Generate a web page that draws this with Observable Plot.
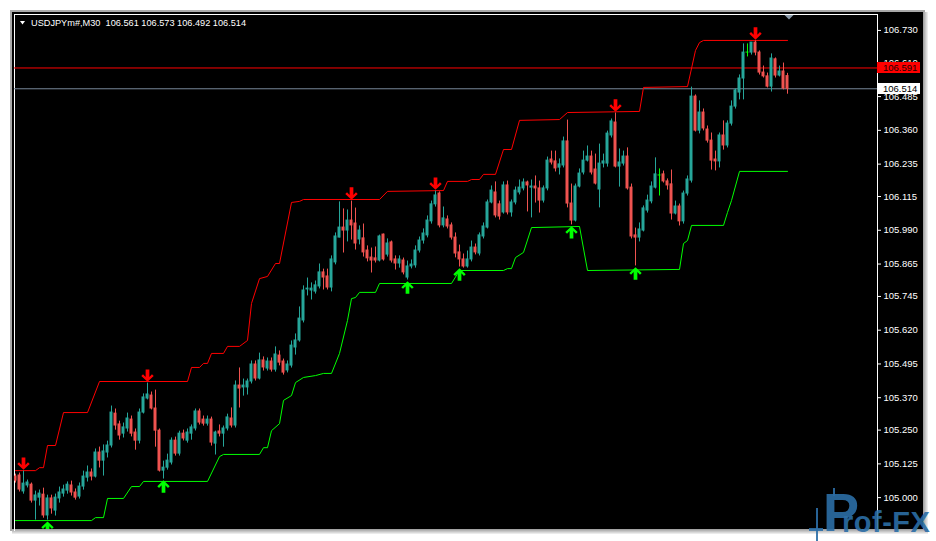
<!DOCTYPE html>
<html>
<head>
<meta charset="utf-8">
<script src="https://cdn.jsdelivr.net/npm/d3@7"></script>
<script src="https://cdn.jsdelivr.net/npm/@observablehq/plot@0.6"></script>
<style>
  html, body { margin: 0; padding: 0; background: #ffffff; }
  #wrap { position: relative; width: 936px; height: 541px; overflow: hidden; font-family: "Liberation Sans", Arial, sans-serif; }
  .abs { position: absolute; }
</style>
</head>
<body>
<div id="wrap">
  <div class="abs" style="left:10px;top:10px;width:915px;height:2px;background:#a8a8a8"></div>
  <div class="abs" style="left:10px;top:10px;width:2px;height:521px;background:#a8a8a8"></div>
  <div class="abs" style="left:923px;top:12px;width:5px;height:520px;background:linear-gradient(to right,#9a9a9a,#f4f4f4)"></div>
  <div class="abs" style="left:12px;top:529px;width:916px;height:5px;background:linear-gradient(to bottom,#9a9a9a,#f4f4f4)"></div>
  <div class="abs" style="left:12px;top:12px;width:911px;height:517px;background:#000"></div>
  <div class="abs" style="left:14px;top:14px;width:862px;height:516px;border-left:1px solid #fff;border-top:1px solid #fff;border-right:1px solid #fff;"></div>
  <div id="chart" class="abs" style="left:0;top:0"></div>
  <svg id="logo" class="abs" style="left:0;top:0;pointer-events:none" width="936" height="541"></svg>
</div>
<script>
// ---- Data (USDJPYm#, M30) ----
const symbolName = "USDJPYm#,M30";
const lastQuote = ["106.561", "106.573", "106.492", "106.514"];
const bidPrice = 106.514;
const askPrice = 106.591;

const candleOpen = [
105.078,105.082,105.023,105.045,105.048,104.989,105.000,105.011,104.934,104.997,
104.952,104.997,105.015,105.026,105.045,105.019,105.004,105.041,105.074,105.093,
105.078,105.167,105.137,105.167,105.193,105.311,105.271,105.237,105.256,105.289,
105.241,105.211,105.315,105.367,105.378,105.330,105.248,105.100,105.111,105.130,
105.211,105.163,105.237,105.211,105.237,105.256,105.319,105.289,105.274,105.289,
105.200,105.245,105.237,105.256,105.293,105.267,105.415,105.408,105.408,105.430,
105.493,105.441,105.508,105.478,105.504,105.474,105.526,105.504,105.471,105.489,
105.556,105.582,105.656,105.771,105.767,105.763,105.782,105.834,105.819,105.778,
105.871,105.963,106.000,105.989,106.026,106.015,105.956,105.960,105.915,105.889,
105.886,105.878,105.974,105.900,105.945,105.882,105.867,105.878,105.815,105.856,
105.860,105.915,105.952,105.971,106.023,106.086,106.126,106.008,106.030,106.008,
105.963,105.908,105.882,105.856,105.882,105.926,105.904,105.967,106.000,106.093,
106.130,106.086,106.056,106.156,106.056,106.093,106.130,106.145,106.167,106.148,
106.152,106.145,106.100,106.145,106.252,106.245,106.222,106.230,106.319,106.089,
106.026,106.152,106.204,106.248,106.263,106.215,106.141,106.237,106.237,106.341,
106.389,106.226,106.237,106.263,106.148,105.971,105.963,105.989,106.063,106.097,
106.148,106.193,106.197,106.171,106.160,106.052,106.078,106.023,106.126,106.174,
106.485,106.359,106.426,106.363,106.322,106.252,106.245,106.341,106.304,106.385,
106.448,106.500,106.552,106.648,106.648,106.685,106.648,106.574,106.560,106.522,
106.623,106.563,106.578,106.561];

const candleHigh = [
105.089,105.093,105.100,105.067,105.056,105.026,105.030,105.037,105.011,105.011,
105.015,105.041,105.048,105.060,105.063,105.034,105.056,105.100,105.119,105.108,
105.182,105.189,105.197,105.211,105.341,105.330,105.285,105.278,105.315,105.304,
105.256,105.330,105.386,105.426,105.393,105.400,105.256,105.137,105.163,105.223,
105.226,105.248,105.252,105.256,105.271,105.330,105.330,105.304,105.304,105.300,
105.248,105.271,105.267,105.311,105.334,105.434,105.482,105.441,105.441,105.508,
105.508,105.537,105.523,105.519,105.519,105.560,105.545,105.515,105.508,105.582,
105.608,105.708,105.786,105.815,105.797,105.804,105.867,105.848,105.848,105.897,
105.982,106.097,106.071,106.067,106.100,106.074,106.008,106.015,105.934,105.926,
105.930,105.974,105.978,105.960,105.952,105.897,105.897,105.889,105.878,105.882,
105.934,105.967,105.997,106.045,106.100,106.137,106.134,106.078,106.045,106.019,
105.982,105.937,105.904,105.915,105.952,105.941,105.982,106.019,106.104,106.156,
106.171,106.100,106.171,106.174,106.104,106.152,106.178,106.182,106.174,106.178,
106.193,106.174,106.156,106.263,106.285,106.285,106.256,106.337,106.400,106.163,
106.163,106.219,106.285,106.304,106.285,106.274,106.311,106.274,106.359,106.404,
106.426,106.293,106.285,106.297,106.163,106.000,106.019,106.082,106.122,106.171,
106.260,106.219,106.211,106.182,106.215,106.100,106.089,106.137,106.193,106.522,
106.493,106.471,106.441,106.378,106.352,106.285,106.352,106.397,106.397,106.471,
106.515,106.567,106.682,106.682,106.685,106.693,106.656,106.600,106.574,106.645,
106.630,106.600,106.611,106.573];

const candleLow = [
105.052,105.019,105.011,105.034,104.978,104.915,104.967,104.922,104.915,104.937,
104.930,104.978,105.000,105.011,105.004,104.989,104.993,105.026,105.056,105.060,
105.071,105.108,105.078,105.145,105.182,105.248,105.211,105.219,105.241,105.223,
105.174,105.197,105.308,105.360,105.323,105.185,105.093,105.067,105.100,105.119,
105.152,105.152,105.208,105.200,105.211,105.245,105.267,105.263,105.263,105.189,
105.156,105.223,105.185,105.245,105.256,105.256,105.330,105.374,105.378,105.419,
105.430,105.434,105.467,105.467,105.463,105.463,105.486,105.452,105.460,105.478,
105.526,105.574,105.645,105.745,105.730,105.752,105.771,105.767,105.767,105.760,
105.860,105.960,105.904,105.945,105.952,105.915,105.934,105.889,105.871,105.830,
105.867,105.871,105.874,105.889,105.867,105.841,105.848,105.823,105.804,105.845,
105.848,105.904,105.937,105.960,106.011,106.074,105.997,105.997,105.993,105.952,
105.886,105.852,105.848,105.848,105.871,105.897,105.893,105.956,105.993,106.086,
106.034,106.026,106.048,106.045,106.037,106.082,106.119,106.134,106.056,106.034,
106.089,106.052,106.089,106.134,106.230,106.204,106.193,106.219,106.071,106.008,
106.019,106.145,106.193,106.241,106.193,106.156,106.071,106.219,106.222,106.330,
106.219,106.148,106.226,106.137,105.956,105.856,105.945,105.982,106.052,106.086,
106.141,106.115,106.163,106.137,106.026,106.045,106.004,106.011,106.115,106.163,
106.352,106.345,106.356,106.311,106.211,106.208,106.219,106.285,106.293,106.374,
106.437,106.471,106.471,106.630,106.637,106.634,106.563,106.552,106.515,106.500,
106.552,106.556,106.508,106.492];

const candleClose = [
105.063,105.030,105.052,105.056,104.989,105.008,105.015,104.934,104.997,104.960,
105.000,105.019,105.030,105.048,105.019,105.000,105.041,105.078,105.093,105.078,
105.167,105.137,105.171,105.193,105.315,105.267,105.230,105.260,105.293,105.237,
105.211,105.315,105.371,105.382,105.330,105.248,105.100,105.111,105.137,105.211,
105.163,105.237,105.219,105.241,105.260,105.319,105.278,105.274,105.289,105.204,
105.241,105.237,105.256,105.297,105.267,105.415,105.404,105.415,105.430,105.493,
105.441,105.508,105.482,105.504,105.474,105.530,105.500,105.463,105.493,105.563,
105.582,105.663,105.767,105.774,105.774,105.786,105.834,105.815,105.778,105.882,
105.967,106.000,105.989,106.026,106.008,105.941,105.989,105.908,105.886,105.878,
105.878,105.967,105.882,105.941,105.878,105.867,105.882,105.834,105.856,105.863,
105.915,105.952,105.978,106.026,106.086,106.119,106.008,106.034,106.004,105.963,
105.904,105.882,105.856,105.882,105.926,105.908,105.971,106.004,106.093,106.137,
106.045,106.041,106.156,106.056,106.093,106.137,106.148,106.167,106.156,106.152,
106.145,106.100,106.145,106.248,106.241,106.219,106.234,106.319,106.089,106.026,
106.152,106.200,106.248,106.263,106.204,106.163,106.237,106.245,106.348,106.393,
106.226,106.241,106.263,106.145,105.967,105.963,105.993,106.071,106.100,106.152,
106.197,106.193,106.171,106.156,106.052,106.078,106.023,106.126,106.178,106.485,
106.359,106.426,106.367,106.322,106.248,106.245,106.341,106.304,106.385,106.448,
106.508,106.552,106.648,106.648,106.685,106.648,106.574,106.560,106.522,106.626,
106.563,106.578,106.515,106.514];

// upper (red) and lower (green) channel lines, read as bar index / price
const upperBarIndex = [0,5,6,7,8,10,12,18,21,43,44,46,47,48,49,52,53,56,58,59,61,63,65,66,69,71,72,91,93,107,108,113,114,116,117,120,122,124,126,136,138,156,157,168,170,171,172,193];
const upperPrice = [105.100,105.100,105.111,105.111,105.193,105.193,105.315,105.315,105.430,105.430,105.482,105.482,105.497,105.497,105.534,105.534,105.560,105.560,105.582,105.719,105.811,105.819,105.867,105.867,106.093,106.097,106.104,106.104,106.134,106.137,106.171,106.171,106.178,106.178,106.197,106.197,106.289,106.289,106.397,106.400,106.426,106.430,106.519,106.522,106.656,106.685,106.693,106.693];
const lowerBarIndex = [0,19,20,22,23,27,29,31,32,48,51,52,61,62,63,64,66,67,69,70,72,75,77,79,81,83,84,85,86,90,91,109,111,122,123,124,125,127,129,141,143,166,167,168,169,177,178,179,181,193];
const lowerPrice = [104.915,104.915,104.926,104.926,104.997,104.997,105.041,105.041,105.060,105.060,105.152,105.160,105.160,105.185,105.185,105.248,105.274,105.360,105.378,105.426,105.445,105.452,105.460,105.460,105.534,105.656,105.737,105.741,105.760,105.760,105.793,105.793,105.841,105.841,105.848,105.848,105.889,105.908,106.000,106.004,105.841,105.845,105.941,105.952,106.008,106.008,106.056,106.100,106.208,106.208];

// signal arrows (bar indices)
const sellArrowBars = [2, 33, 84, 105, 150, 185];
const buyArrowBars = [8, 37, 98, 111, 139, 155];

// price axis labels
const priceTickLabels = ["106.730","106.610","106.485","106.360","106.235","106.115","105.990","105.865","105.745","105.620","105.495","105.370","105.250","105.125","105.000"];

// ---- Build ----
const TEAL = "#26a69a", SALMON = "#ef5350", DOJI = "#00ff00";
const FONT = "Liberation Sans, Arial, sans-serif";
const candles = candleOpen.map((o, i) => ({
  i, open: o, high: candleHigh[i], low: candleLow[i], close: candleClose[i],
  color: candleClose[i] > o ? TEAL : candleClose[i] < o ? SALMON : DOJI
}));
const upperLine = upperBarIndex.map((i, k) => ({i, v: upperPrice[k]}));
const lowerLine = lowerBarIndex.map((i, k) => ({i, v: lowerPrice[k]}));
const sellArrows = sellArrowBars.map(i => candles[i]);
const buyArrows = buyArrowBars.map(i => candles[i]);

function arrowSymbol(dir) {
  const pts = [[-0.3,-1],[0.3,-1],[0.3,0.22],[0.72,-0.22],[1.0,0.06],[0,1.0],[-1.0,0.06],[-0.72,-0.22],[-0.3,0.22]];
  return {
    draw(ctx, size) {
      const r = Math.sqrt(size / Math.PI);
      pts.forEach(([x, y], k) => {
        const px = x * r, py = dir * y * r;
        if (k === 0) ctx.moveTo(px, py); else ctx.lineTo(px, py);
      });
      ctx.closePath();
    }
  };
}

const plot = Plot.plot({
  width: 936,
  height: 541,
  marginLeft: 14,
  marginRight: 59,
  marginTop: 14,
  marginBottom: 12,
  style: {background: "transparent", fontFamily: FONT, overflow: "visible"},
  x: {domain: [-0.25, 215.5], axis: null},
  y: {domain: [104.882, 106.789], inset: 0},
  marks: [
    Plot.ruleY([askPrice], {stroke: "#ff0000", strokeWidth: 1}),
    Plot.ruleY([bidPrice], {stroke: "#778899", strokeWidth: 1}),
    Plot.line(upperLine, {x: "i", y: "v", stroke: "#ff0000", strokeWidth: 1, clip: true}),
    Plot.line(lowerLine, {x: "i", y: "v", stroke: "#00ff00", strokeWidth: 1, clip: true}),
    Plot.ruleX(candles, {x: "i", y1: "low", y2: "high", stroke: "color", strokeWidth: 1, insetTop: -0.5, insetBottom: -0.5, clip: true}),
    Plot.rect(candles, {x1: d => d.i - 0.375, x2: d => d.i + 0.375, y1: "open", y2: "close", fill: "color", insetTop: -0.5, insetBottom: -0.5, clip: true}),
    Plot.dot(sellArrows, {x: "i", y: "high", symbol: arrowSymbol(1), r: 6.2, fill: "#ff0000", dy: -7, clip: true}),
    Plot.dot(buyArrows, {x: "i", y: "low", symbol: arrowSymbol(-1), r: 6.2, fill: "#00ff00", dy: 7, clip: true}),
    Plot.axisY(priceTickLabels.map(Number), {anchor: "right", tickSize: 3, tickPadding: 3, fontSize: 9.5, color: "#ffffff", tickFormat: d => d.toFixed(3), label: null})
  ]
});
document.getElementById("chart").appendChild(plot);

// ---- Overlays drawn from the plot's scales ----
const svg = d3.select(plot);
const ys = plot.scale("y"), xs = plot.scale("x");
const frameRight = 936 - 59;
function priceBox(value, bg, fg) {
  const yv = ys.apply(value);
  svg.append("rect").attr("x", frameRight).attr("y", Math.round(yv) - 5).attr("width", 43).attr("height", 11).attr("fill", bg);
  svg.append("text").attr("x", frameRight + 6).attr("y", Math.round(yv) + 4)
    .attr("text-anchor", "start")
    .attr("fill", fg).attr("font-size", 9.5).attr("font-family", FONT).text(value.toFixed(3));
}
priceBox(askPrice, "#ff0000", "#1a0000");
priceBox(bidPrice, "#ffffff", "#000000");

// title
svg.append("path").attr("d", "M20,21L25,21L22.5,24.5Z").attr("fill", "#ffffff");
svg.append("text").attr("x", 31).attr("y", 26).attr("fill", "#ffffff").attr("font-size", 9.2)
  .attr("text-anchor", "start")
  .attr("font-family", FONT).attr("xml:space", "preserve")
  .style("white-space", "pre")
  .text(symbolName + "  " + lastQuote.join(" "));

// chart shift marker
const sx = xs.apply(candles.length - 1) + 2;
svg.append("path").attr("d", `M${sx - 4.5},15L${sx + 4.5},15L${sx},19.5Z`).attr("fill", "#8a9aaa");

// watermark logo
const logo = d3.select("#logo");
const blue = "#2c6ea6";
logo.append("rect").attr("x", 816).attr("y", 508).attr("width", 2).attr("height", 33).attr("fill", blue).attr("opacity", 0.9);
logo.append("rect").attr("x", 809).attr("y", 528).attr("width", 14).attr("height", 3).attr("fill", blue).attr("opacity", 0.9);
logo.append("rect").attr("x", 833).attr("y", 488).attr("width", 2).attr("height", 8).attr("fill", blue).attr("opacity", 0.9);
logo.append("text").attr("x", 823).attr("y", 531).attr("font-size", 54).attr("font-weight", "bold")
  .attr("text-anchor", "start")
  .attr("font-family", FONT).attr("fill", blue).attr("opacity", 0.9).text("P");
logo.append("text").attr("x", 842).attr("y", 532).attr("font-size", 29).attr("font-weight", "bold")
  .attr("text-anchor", "start").attr("letter-spacing", 0.5)
  .attr("font-family", FONT).attr("fill", blue).attr("opacity", 0.9).text("rof-FX");
</script>
</body>
</html>
